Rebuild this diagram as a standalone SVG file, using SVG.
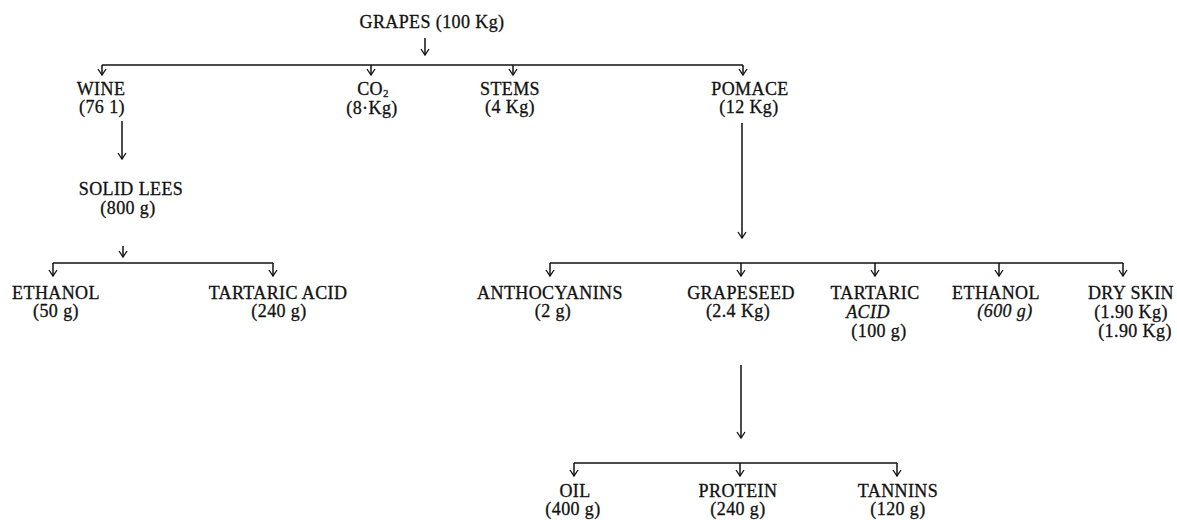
<svg xmlns="http://www.w3.org/2000/svg" width="1177" height="520" viewBox="0 0 1177 520">
<style>
text{font-family:"Liberation Serif","Times New Roman",serif;font-size:18px;fill:#111;stroke:#111;stroke-width:0.3;letter-spacing:0.4px;text-anchor:middle}
.it{font-style:italic}
.c{fill:none;stroke:#111;stroke-width:1.5}
</style>
<defs>
<marker id="ah" markerUnits="userSpaceOnUse" markerWidth="12" markerHeight="12" refX="0" refY="0" orient="auto" overflow="visible">
<path d="M-6,-4 L0,0 L-6,4" fill="none" stroke="#111" stroke-width="1.3"/>
</marker>
</defs>
<rect width="1177" height="520" fill="#fff"/>
<g id="connectors">
<path class="c" d="M425,38 V55" marker-end="url(#ah)"/>
<path class="c" d="M102,65 H743"/>
<path class="c" d="M102,65 V75" marker-end="url(#ah)"/>
<path class="c" d="M371,65 V75" marker-end="url(#ah)"/>
<path class="c" d="M513,65 V75" marker-end="url(#ah)"/>
<path class="c" d="M743,65 V75" marker-end="url(#ah)"/>
<path class="c" d="M122,121 V159" marker-end="url(#ah)"/>
<path class="c" d="M123,246 V257" marker-end="url(#ah)"/>
<path class="c" d="M53,263 H273"/>
<path class="c" d="M53,263 V276" marker-end="url(#ah)"/>
<path class="c" d="M273,263 V276" marker-end="url(#ah)"/>
<path class="c" d="M742,123 V238" marker-end="url(#ah)"/>
<path class="c" d="M550,263 H1123"/>
<path class="c" d="M550,263 V276" marker-end="url(#ah)"/>
<path class="c" d="M741,263 V276" marker-end="url(#ah)"/>
<path class="c" d="M875,263 V276" marker-end="url(#ah)"/>
<path class="c" d="M999,263 V276" marker-end="url(#ah)"/>
<path class="c" d="M1123,263 V276" marker-end="url(#ah)"/>
<path class="c" d="M741,365 V438" marker-end="url(#ah)"/>
<path class="c" d="M574,463 H897"/>
<path class="c" d="M574,463 V476" marker-end="url(#ah)"/>
<path class="c" d="M740,463 V476" marker-end="url(#ah)"/>
<path class="c" d="M897,463 V476" marker-end="url(#ah)"/>
</g>
<g id="grapes"><text x="432" y="28">GRAPES (100 Kg)</text></g>
<g id="wine"><text x="101" y="95">WINE</text><text x="102" y="113">(76 1)</text></g>
<g id="co2"><text x="373" y="95">CO<tspan font-size="11" dy="2">2</tspan></text><text x="372" y="114">(8·Kg)</text></g>
<g id="stems"><text x="510" y="95">STEMS</text><text x="510" y="113">(4 Kg)</text></g>
<g id="pomace"><text x="750" y="95">POMACE</text><text x="749" y="113">(12 Kg)</text></g>
<g id="solid-lees"><text x="131" y="195">SOLID LEES</text><text x="128" y="214">(800 g)</text></g>
<g id="lees-ethanol"><text x="56" y="299">ETHANOL</text><text x="56" y="317">(50 g)</text></g>
<g id="lees-tartaric"><text x="278" y="299">TARTARIC ACID</text><text x="279" y="317">(240 g)</text></g>
<g id="anthocyanins"><text x="550" y="299">ANTHOCYANINS</text><text x="553" y="317">(2 g)</text></g>
<g id="grapeseed"><text x="741" y="299">GRAPESEED</text><text x="738" y="317">(2.4 Kg)</text></g>
<g id="pomace-tartaric"><text x="875" y="299">TARTARIC</text><text class="it" x="868" y="318">ACID</text><text x="879" y="337">(100 g)</text></g>
<g id="pomace-ethanol"><text x="996" y="299">ETHANOL</text><text class="it" x="1005" y="317">(600 g)</text></g>
<g id="dry-skin"><text x="1131" y="299">DRY SKIN</text><text x="1131" y="318">(1.90 Kg)</text><text x="1135" y="337">(1.90 Kg)</text></g>
<g id="oil"><text x="575" y="497">OIL</text><text x="573" y="515">(400 g)</text></g>
<g id="protein"><text x="738" y="497">PROTEIN</text><text x="738" y="515">(240 g)</text></g>
<g id="tannins"><text x="898" y="497">TANNINS</text><text x="898" y="515">(120 g)</text></g>
</svg>
